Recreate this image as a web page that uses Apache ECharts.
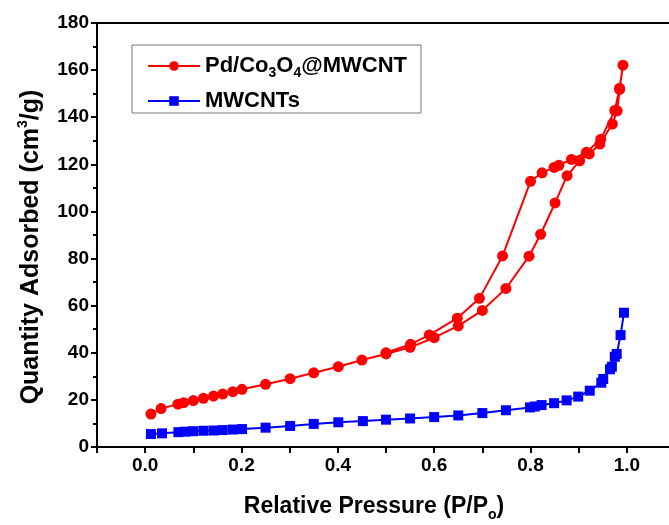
<!DOCTYPE html>
<html>
<head>
<meta charset="utf-8">
<script src="https://cdn.jsdelivr.net/npm/echarts@6/dist/echarts.min.js"></script>
<style>
html, body { margin: 0; padding: 0; background: #fff; }
#main { width: 669px; height: 525px; }
</style>
</head>
<body>
<div id="main"></div>
<script>
// Pd/Co3O4@MWCNT: adsorption branch, then desorption branch (one closed loop)
var pdPressure = [0.012, 0.033, 0.068, 0.080, 0.100, 0.121, 0.142, 0.161, 0.182, 0.201,
  0.250, 0.301, 0.350, 0.401, 0.450, 0.500, 0.550, 0.600, 0.650, 0.700, 0.749, 0.797,
  0.821, 0.851, 0.876, 0.902, 0.922, 0.944, 0.970, 0.980, 0.985, 0.992,
  0.985, 0.975, 0.946, 0.916, 0.885, 0.859, 0.849, 0.824, 0.800, 0.742, 0.694, 0.648,
  0.590, 0.551, 0.500];
var pdQuantity = [14.0, 16.3, 18.2, 18.8, 19.7, 20.7, 21.6, 22.5, 23.5, 24.5,
  26.6, 29.0, 31.5, 34.1, 36.9, 39.5, 42.3, 46.4, 51.4, 58.0, 67.3, 81.0,
  90.3, 103.6, 115.2, 121.5, 124.4, 128.6, 137.1, 142.7, 151.8, 162.1,
  152.3, 142.9, 130.7, 125.1, 122.1, 119.6, 118.7, 116.4, 112.8, 81.1, 63.1, 54.7,
  47.6, 43.6, 40.0];

// MWCNTs
var cntPressure = [0.012, 0.035, 0.069, 0.083, 0.100, 0.121, 0.142, 0.161, 0.182, 0.201,
  0.250, 0.301, 0.350, 0.401, 0.452, 0.500, 0.550, 0.600, 0.650, 0.700, 0.749, 0.799,
  0.809, 0.823, 0.849, 0.875, 0.899, 0.923, 0.947, 0.951, 0.965, 0.969, 0.975, 0.979,
  0.987, 0.994];
var cntQuantity = [5.5, 5.8, 6.3, 6.5, 6.7, 6.9, 7.0, 7.2, 7.4, 7.6,
  8.2, 8.9, 9.8, 10.5, 11.0, 11.6, 12.1, 12.7, 13.4, 14.4, 15.6, 16.8,
  17.2, 17.8, 18.6, 19.8, 21.4, 23.9, 27.3, 28.9, 33.0, 34.1, 38.3, 39.5,
  47.5, 57.0];

var xTickLabels = ['0.0', '0.2', '0.4', '0.6', '0.8', '1.0'];
var seriesNames = ['Pd/Co3O4@MWCNT', 'MWCNTs'];
var legendLabels = ['{n|Pd/Co}{s|3}{n|O}{s|4}{n|@MWCNT}', '{n|MWCNTs}'];

function zip(xs, ys) {
  return xs.map(function (x, i) { return [x, ys[i]]; });
}

var FONT = '"Liberation Sans", Arial, sans-serif';
var chart = echarts.init(document.getElementById('main'), null, { renderer: 'canvas' });

chart.setOption({
  animation: false,
  backgroundColor: '#fff',
  grid: {
    left: 97, top: 23, right: -6, bottom: 78,
    containLabel: false,
    outerBoundsMode: 'none',
    show: true, borderColor: '#000', borderWidth: 2, backgroundColor: 'transparent'
  },
  legend: {
    orient: 'vertical',
    left: 132, top: 45,
    padding: [10, 14, 1, 15],
    itemGap: 10,
    itemWidth: 52, itemHeight: 12,
    borderColor: '#777', borderWidth: 1, borderRadius: 0,
    backgroundColor: '#fff',
    data: seriesNames,
    formatter: function (name) { return legendLabels[seriesNames.indexOf(name)]; },
    textStyle: {
      color: '#000',
      rich: {
        n: { fontFamily: FONT, fontWeight: 'bold', fontSize: 22, lineHeight: 28, color: '#000' },
        s: { fontFamily: FONT, fontWeight: 'bold', fontSize: 14, lineHeight: 14, verticalAlign: 'bottom', color: '#000' }
      }
    }
  },
  xAxis: {
    type: 'value',
    min: -0.1, max: 1.1, interval: 0.1,
    name: '{n|Relative Pressure (P/P}{s|o}{n|)}',
    nameLocation: 'middle',
    nameGap: 45,
    nameTextStyle: {
      padding: [0, 24, 0, 0],
      rich: {
        n: { fontFamily: FONT, fontWeight: 'bold', fontSize: 23, lineHeight: 30, color: '#000' },
        s: { fontFamily: FONT, fontWeight: 'bold', fontSize: 14, lineHeight: 14, verticalAlign: 'bottom', color: '#000' }
      }
    },
    axisLine: { show: true, onZero: false, lineStyle: { color: '#000', width: 2 } },
    axisTick: { show: true, inside: false, length: 6, lineStyle: { color: '#000', width: 2 } },
    axisLabel: {
      margin: 9, color: '#000', fontFamily: FONT, fontWeight: 'bold', fontSize: 19,
      formatter: function (v) {
        var s = v.toFixed(1);
        return xTickLabels.indexOf(s) >= 0 ? s : '';
      }
    },
    splitLine: { show: false }
  },
  yAxis: {
    type: 'value',
    min: 0, max: 180, interval: 20,
    name: '{n|Quantity Adsorbed (cm}{p|3}{n|/g)}',
    nameLocation: 'middle',
    nameRotate: 90,
    nameGap: 51,
    nameTextStyle: {
      padding: [0, 24, 0, 0],
      rich: {
        n: { fontFamily: FONT, fontWeight: 'bold', fontSize: 25, lineHeight: 30, color: '#000' },
        p: { fontFamily: FONT, fontWeight: 'bold', fontSize: 14, lineHeight: 14, verticalAlign: 'top', color: '#000' }
      }
    },
    axisLine: { show: true, onZero: false, lineStyle: { color: '#000', width: 2 } },
    axisTick: { show: true, inside: false, length: 6, lineStyle: { color: '#000', width: 2 } },
    minorTick: { show: true, splitNumber: 2, length: 4, lineStyle: { color: '#000', width: 2 } },
    axisLabel: { margin: 8, color: '#000', fontFamily: FONT, fontWeight: 'bold', fontSize: 19 },
    splitLine: { show: false },
    minorSplitLine: { show: false }
  },
  series: [
    {
      name: seriesNames[0],
      type: 'line',
      data: zip(pdPressure, pdQuantity),
      color: '#ff0000',
      symbol: 'circle',
      symbolSize: 11,
      showAllSymbol: true,
      lineStyle: { width: 2, color: '#ff0000' },
      itemStyle: { color: '#ff0000' }
    },
    {
      name: seriesNames[1],
      type: 'line',
      data: zip(cntPressure, cntQuantity),
      color: '#0000ff',
      symbol: 'rect',
      symbolSize: 10,
      showAllSymbol: true,
      lineStyle: { width: 2, color: '#0000ff' },
      itemStyle: { color: '#0000ff' }
    }
  ]
});
</script>
</body>
</html>
